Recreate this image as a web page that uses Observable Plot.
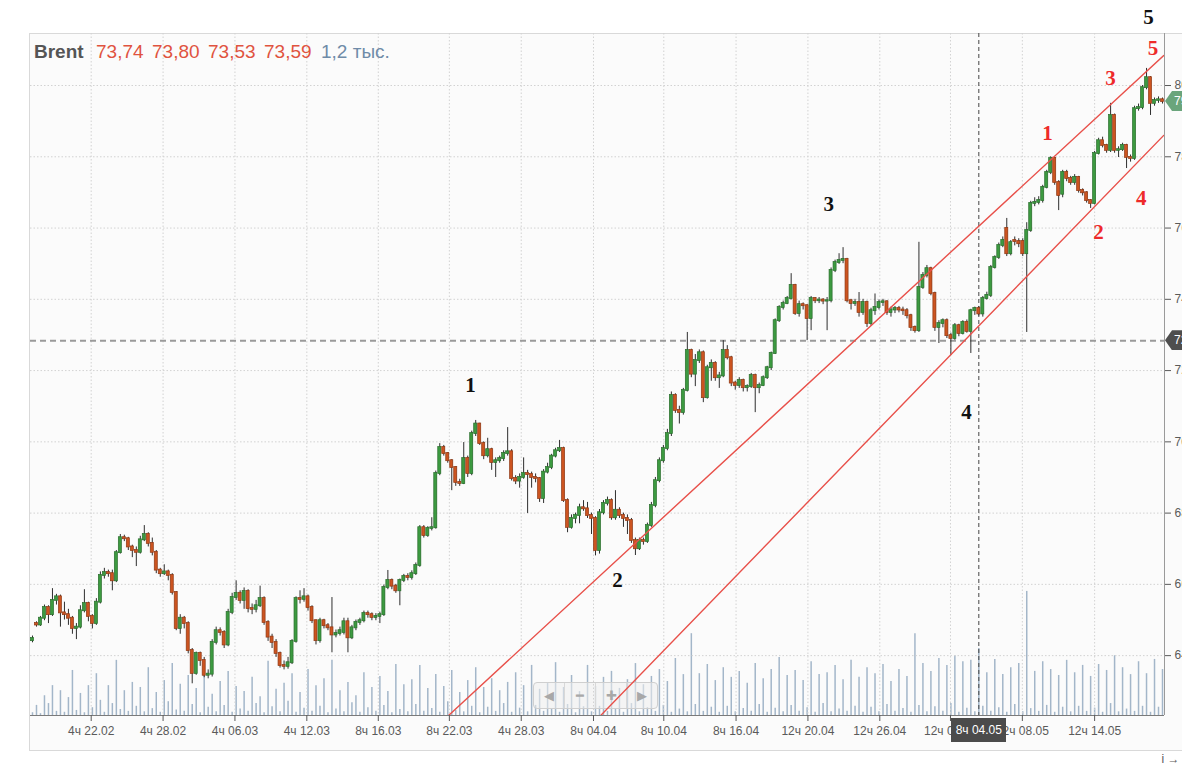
<!DOCTYPE html>
<html><head><meta charset="utf-8">
<script src="https://cdn.jsdelivr.net/npm/d3@7"></script>
<script src="https://cdn.jsdelivr.net/npm/@observablehq/plot@0.6"></script>
<style>
html,body{margin:0;padding:0;background:#fff;overflow:hidden;width:1196px;height:765px;}
#wrap{position:relative;width:1182px;height:765px;overflow:hidden;font-family:"Liberation Sans",Arial,sans-serif;}
#box{position:absolute;left:29px;top:33px;width:1153px;height:718px;border:1px solid #d9d9d9;border-right:none;background:#fbfbfb;box-sizing:border-box;}
.layer{position:absolute;left:0;}
#hdr span{position:absolute;top:42px;font-size:19px;line-height:19px;white-space:nowrap;}
.tag{position:absolute;left:1165px;height:20px;width:17px;overflow:hidden;color:#fff;font-size:12px;line-height:20px;padding-left:9px;box-sizing:border-box;white-space:nowrap;clip-path:polygon(0 50%,7px 0,100% 0,100% 100%,7px 100%);}
#xlab{position:absolute;top:718px;width:55px;height:24px;background:#4b4b4b;color:#fff;font-size:12px;line-height:24px;text-align:center;}
#nav{position:absolute;left:533px;top:682px;width:125px;height:27px;border:1px solid #cfcfcf;border-radius:4px;background:rgba(238,238,238,0.55);display:flex;box-sizing:border-box;}
#nav div{flex:1;border-left:1px solid #d8d8d8;color:#a8a8a8;font-size:13px;line-height:25px;text-align:center;}
#nav div:first-child{border-left:none;}
</style></head>
<body>
<div id="wrap">
  <div id="box"></div>
</div>
<script>
// ---------- data ----------
const open = [64.42,64.90,64.86,65.05,65.35,65.15,65.55,65.65,65.20,65.15,65.05,64.76,64.80,65.26,65.46,65.10,64.90,65.50,66.25,66.33,
66.30,66.10,66.89,67.31,67.28,67.05,66.95,66.90,67.25,67.40,67.15,66.90,66.40,66.30,66.35,66.25,65.77,64.76,65.05,64.90,
64.14,63.50,64.06,63.86,63.45,63.48,64.37,64.70,64.65,64.30,65.21,65.63,65.75,65.55,65.80,65.32,65.30,65.40,65.60,64.93,
64.52,64.37,64.06,63.72,63.70,63.80,64.40,65.60,65.58,65.65,65.35,64.98,64.42,64.98,64.84,64.78,64.58,64.62,64.65,64.95,
64.50,64.78,64.93,64.98,65.18,65.15,65.07,65.10,65.15,65.91,66.11,65.95,65.82,66.11,66.22,66.19,66.30,66.53,67.59,67.37,
67.57,67.59,69.11,69.84,69.67,69.47,69.28,68.86,68.83,69.53,69.11,70.23,70.50,69.95,69.61,69.78,69.42,69.47,69.53,69.67,
69.72,68.97,68.90,69.00,69.11,69.08,69.00,68.97,68.41,69.15,69.28,69.60,69.75,69.81,68.35,67.60,67.85,67.93,68.15,68.12,
67.93,67.85,66.95,68.01,68.27,68.35,67.87,68.08,67.93,67.85,67.79,67.23,67.00,67.23,67.20,67.65,68.21,68.91,69.47,69.81,
70.23,71.30,70.88,70.82,71.44,72.56,71.90,72.28,72.50,71.24,72.08,72.20,71.80,71.85,72.56,72.36,71.65,71.58,71.72,71.52,
71.55,71.86,71.52,71.58,71.80,72.08,72.48,73.40,73.77,73.88,74.02,74.39,73.60,73.85,73.82,73.46,74.02,73.96,73.98,73.95,
73.96,74.81,75.03,75.09,75.12,73.96,73.88,73.91,73.63,73.91,73.32,73.68,73.77,73.91,73.93,73.63,73.70,73.74,73.70,73.68,
73.54,73.21,73.12,74.33,74.67,74.86,74.16,73.21,73.32,73.40,72.98,72.90,73.26,73.04,73.35,73.10,73.68,73.74,73.59,74.02,
74.11,74.89,75.17,75.51,75.99,75.28,75.65,75.62,75.62,75.28,75.93,76.69,76.72,76.77,77.14,77.56,77.95,77.28,76.95,77.56,
77.39,77.28,77.42,77.05,76.99,76.77,76.69,78.09,78.45,78.32,78.18,79.16,78.18,78.20,78.32,77.98,77.95,79.35,79.38,79.94,
80.22,79.50,79.58,79.60];
const high = [64.55,64.95,65.10,65.42,65.40,65.88,65.72,65.70,65.50,65.30,65.10,64.90,65.40,65.85,65.50,65.15,65.60,66.35,66.45,66.40,
66.40,66.95,67.40,67.38,67.32,67.10,67.05,67.35,67.65,67.45,67.30,66.95,66.45,66.55,66.40,66.30,65.80,65.15,65.10,64.95,
64.20,64.10,64.10,63.95,63.60,64.45,64.80,64.78,64.70,65.30,65.75,66.10,65.82,65.90,65.85,65.45,65.55,65.95,65.65,64.98,
64.60,64.45,64.10,63.85,63.95,64.45,65.65,65.82,65.88,65.70,65.40,65.00,65.05,65.02,64.90,65.63,64.72,64.80,65.05,65.05,
64.85,65.00,65.05,65.25,65.25,65.20,65.18,65.22,65.98,66.39,66.15,66.00,66.15,66.28,66.30,66.38,66.60,67.65,67.65,67.62,
67.87,69.18,69.95,69.90,69.70,69.50,69.30,68.95,69.98,69.60,70.30,70.60,70.52,70.00,70.10,69.82,69.55,69.60,69.75,70.40,
69.78,69.05,69.10,69.55,69.20,69.15,69.10,69.00,69.22,69.40,69.65,69.82,70.04,69.85,68.40,67.95,68.00,68.25,68.35,68.30,
68.00,67.90,68.10,68.35,68.45,68.40,68.63,68.15,68.00,67.95,67.85,67.30,67.30,67.30,67.72,68.30,69.00,69.55,69.90,70.35,
71.40,71.35,71.00,71.50,73.07,72.60,72.45,72.58,72.55,72.15,72.30,72.25,71.95,72.84,72.70,72.40,71.70,71.80,71.76,71.60,
71.92,71.90,71.65,71.85,72.12,72.52,73.45,73.82,73.95,74.08,74.72,74.42,73.95,73.90,73.85,74.08,74.05,74.05,74.02,74.05,
74.88,75.10,75.28,75.45,75.15,74.00,74.00,74.19,74.00,73.95,73.75,74.15,73.98,74.00,73.96,73.78,73.80,73.80,73.78,73.74,
73.58,73.25,75.60,74.75,74.95,74.90,74.20,73.40,73.45,73.45,73.05,73.32,73.30,73.40,73.42,73.72,73.78,73.80,74.08,74.20,
74.95,75.22,75.58,75.75,76.27,75.65,75.75,75.70,75.70,76.15,76.75,76.85,76.88,77.20,77.62,78.00,77.98,77.33,77.62,77.62,
77.45,77.50,77.45,77.10,77.02,76.80,78.15,78.52,78.55,78.35,79.50,79.20,78.28,78.38,78.35,78.05,79.42,79.48,80.00,80.48,
80.25,79.65,79.68,79.65];
const low = [64.36,64.80,64.82,64.98,64.90,65.10,65.42,64.80,65.00,64.85,64.60,64.45,64.75,65.20,64.95,64.75,64.85,65.45,66.15,66.20,
65.82,66.05,66.85,67.20,66.95,66.75,66.50,66.85,67.20,67.05,66.80,66.30,66.20,66.25,66.10,65.70,64.70,64.60,64.75,64.05,
63.21,63.45,63.70,63.38,63.35,63.40,64.30,64.55,64.20,64.25,65.15,65.55,65.45,65.30,65.20,65.15,65.20,65.35,64.85,64.40,
64.20,63.95,63.65,63.60,63.62,63.75,64.35,65.45,65.50,65.25,64.90,64.30,64.35,64.75,64.70,64.08,64.50,64.55,64.58,64.08,
64.45,64.70,64.85,64.92,65.05,64.98,64.98,64.90,65.10,65.85,65.85,65.75,65.40,66.05,66.10,66.12,66.25,66.48,67.30,67.32,
67.50,67.55,69.05,69.60,69.40,68.63,68.75,68.75,68.80,69.00,69.05,70.15,69.90,69.50,69.55,69.20,69.00,69.40,69.45,69.60,
68.90,68.80,68.70,68.95,67.99,68.70,68.85,68.30,68.27,69.10,69.22,69.55,69.70,68.30,67.45,67.55,67.70,67.70,68.05,67.85,
67.40,66.80,66.85,67.95,68.20,67.80,67.80,67.85,67.60,67.40,67.15,66.81,66.95,67.10,67.15,67.60,68.15,68.85,69.40,69.75,
70.15,70.80,70.50,70.75,71.40,71.80,71.55,72.20,71.10,71.20,71.70,71.70,71.50,71.80,72.30,71.55,71.45,71.50,71.40,71.40,
71.50,70.82,71.35,71.55,71.75,72.00,72.45,73.35,73.70,73.85,73.98,73.55,73.50,73.70,72.84,73.12,73.88,73.88,73.85,73.12,
73.90,74.75,74.98,75.00,73.90,73.70,73.80,73.50,73.55,73.21,73.25,73.55,73.70,73.80,73.55,73.50,73.60,73.62,73.55,73.45,
73.10,73.05,73.07,74.28,74.60,74.10,73.10,72.76,73.20,72.90,72.42,72.85,72.95,73.00,73.05,72.48,73.55,73.53,73.50,73.98,
74.05,74.85,75.12,75.45,75.20,75.22,75.50,75.45,75.20,73.07,75.88,76.60,76.65,76.70,77.10,77.50,77.20,76.49,76.85,77.30,
77.20,77.20,76.98,76.90,76.70,76.55,76.65,78.05,78.25,78.10,78.12,78.10,77.98,78.15,77.67,77.85,77.90,79.28,79.32,79.88,
79.16,79.42,79.50,79.48];
const close = [64.48,64.86,65.05,65.35,65.15,65.55,65.65,65.20,65.15,65.05,64.76,64.80,65.26,65.46,65.10,64.90,65.50,66.25,66.33,66.30,
66.10,66.89,67.31,67.28,67.05,66.95,66.90,67.25,67.40,67.15,66.90,66.40,66.30,66.35,66.25,65.77,64.76,65.05,64.90,64.14,
63.50,64.06,63.86,63.45,63.48,64.37,64.70,64.65,64.30,65.21,65.63,65.75,65.55,65.80,65.32,65.30,65.40,65.60,64.93,64.52,
64.37,64.06,63.72,63.70,63.80,64.40,65.60,65.58,65.65,65.35,64.98,64.42,64.98,64.84,64.78,64.58,64.62,64.70,64.95,64.50,
64.78,64.93,64.98,65.18,65.15,65.07,65.10,65.15,65.91,66.11,65.95,65.82,66.11,66.22,66.19,66.30,66.53,67.59,67.37,67.57,
67.59,69.11,69.84,69.67,69.47,69.28,68.86,68.83,69.53,69.11,70.23,70.50,69.95,69.61,69.78,69.42,69.47,69.53,69.67,69.72,
68.97,68.90,69.00,69.11,69.08,69.00,68.97,68.41,69.15,69.28,69.60,69.75,69.81,68.35,67.60,67.85,67.93,68.15,68.12,67.93,
67.85,66.95,68.01,68.27,68.35,67.87,68.08,67.93,67.85,67.79,67.23,67.00,67.23,67.20,67.65,68.21,68.91,69.47,69.81,70.23,
71.30,70.88,70.82,71.44,72.56,71.90,72.28,72.50,71.24,72.08,72.20,71.80,71.85,72.56,72.36,71.65,71.58,71.72,71.52,71.55,
71.86,71.52,71.58,71.80,72.08,72.48,73.40,73.77,73.88,74.02,74.39,73.60,73.85,73.82,73.46,74.02,73.96,73.98,73.95,73.96,
74.81,75.03,75.09,75.12,73.96,73.88,73.91,73.63,73.91,73.32,73.68,73.77,73.91,73.93,73.63,73.70,73.74,73.70,73.68,73.54,
73.21,73.12,74.33,74.67,74.86,74.16,73.21,73.32,73.40,72.98,72.90,73.26,73.04,73.35,73.10,73.68,73.74,73.59,74.02,74.11,
74.89,75.17,75.51,75.65,75.28,75.59,75.62,75.56,75.28,75.93,76.69,76.72,76.77,77.14,77.56,77.95,77.28,76.91,77.56,77.39,
77.28,77.42,77.05,76.99,76.77,76.69,78.09,78.45,78.32,78.18,79.16,78.18,78.20,78.32,77.98,77.95,79.35,79.38,79.94,80.22,
79.50,79.58,79.60,79.55];
const volume = [0.6,2.2,0.4,4.3,2.6,6.5,0.9,5.4,0.7,3.9,9.8,1.1,4.8,0.6,6.5,1.7,9.1,3.3,0.7,6.5,2.6,12.0,1.3,5.4,
0.9,7.2,2.0,6.1,0.8,10.4,1.5,5.0,0.7,7.6,3.0,11.3,1.2,6.8,0.9,8.7,2.4,5.9,0.6,10.9,1.8,4.6,0.8,7.4,
2.2,9.6,0.7,6.3,1.4,5.2,0.9,8.3,2.6,4.1,0.6,11.8,1.9,5.7,0.8,7.0,3.1,9.1,0.7,5.0,1.6,10.0,0.9,6.5,
2.0,8.0,0.6,12.0,1.4,5.4,0.8,7.2,2.8,4.3,0.7,9.3,1.7,6.1,0.9,8.5,2.2,5.2,0.6,11.1,1.3,6.7,0.8,7.8,
2.4,10.9,0.9,5.9,1.5,8.9,0.7,6.3,3.0,9.8,1.1,5.0,0.8,7.6,2.0,10.4,0.6,6.1,1.8,8.0,0.9,5.4,2.6,7.2,
0.7,9.3,1.6,6.5,0.8,10.9,2.2,5.7,0.9,7.0,1.4,11.5,0.7,6.1,2.4,8.7,0.6,5.2,1.9,10.9,0.8,6.3,2.0,8.3,
0.9,9.6,1.5,5.9,0.7,7.8,2.6,11.3,0.8,6.7,1.7,8.5,0.9,10.0,2.2,7.4,0.7,12.4,1.4,8.9,0.8,17.8,2.4,9.1,
0.9,11.1,1.8,7.6,0.7,10.4,2.0,8.3,0.8,9.6,1.5,7.0,0.9,11.3,2.4,8.0,0.7,10.0,1.6,12.6,0.8,8.7,2.2,9.8,
0.9,7.6,1.7,11.7,0.7,8.9,2.6,9.3,0.8,10.9,1.4,7.8,0.9,12.0,2.0,8.3,0.7,10.4,1.8,9.1,0.8,11.1,2.4,7.4,
0.9,10.0,1.5,8.5,0.7,17.8,2.2,11.3,0.8,9.6,1.9,12.4,0.9,10.9,2.6,13.0,0.7,11.7,1.6,12.0,0.8,14.6,2.0,9.3,
0.9,12.2,1.7,8.9,0.7,10.4,2.4,11.3,0.8,27.0,1.5,9.6,0.9,11.7,2.2,10.0,0.7,8.7,1.8,12.0,0.8,9.3,2.0,10.9,
0.9,8.5,1.6,11.1,0.7,9.8,2.6,13.0,0.8,10.4,1.4,8.9,0.9,11.7,2.0,9.1,0.7,12.2,1.8,10.0];

const xTickIdx = [14.7,32.7,50.7,68.7,86.6,104.4,122.4,140.5,158.1,176.2,194.2,212.2,229.9,247.9,266.0];
const xTickLabels = ["4ч 22.02","4ч 28.02","4ч 06.03","4ч 12.03","8ч 16.03","8ч 22.03","4ч 28.03","8ч 04.04",
  "8ч 10.04","8ч 16.04","12ч 20.04","12ч 26.04","12ч 02.05","12ч 08.05","12ч 14.05"];
const yTicks = [64,66,68,70,72,74,76,78,80];

const waveBlack = [{t:"1",i:109.7,p:71.58},{t:"2",i:146.5,p:66.11},{t:"3",i:199.4,p:76.66},{t:"4",i:233.9,p:70.82},{t:"5",i:279.5,p:81.91}];
const waveRed = [{t:"1",i:254.2,p:78.65},{t:"2",i:267,p:75.87},{t:"3",i:270,p:80.20},{t:"4",i:277.7,p:76.83},{t:"5",i:280.6,p:81.04}];
const channelUpper = [{i:104.2,p:62.32},{i:283.3,p:80.84}];
const channelLower = [{i:142.3,p:62.32},{i:283.3,p:78.60}];

const crossIdx = 237, crossLabel = "8ч 04.05", crossPrice = 72.84;
const header = {name:"Brent", ohlc:["73,74","73,80","73,53","73,59"], vol:"1,2 тыс."};
const lastPrice = 79.55;

// ---------- build ----------
const N = close.length;
const candles = close.map((c,i)=>({i, open:open[i], high:high[i], low:low[i], close:c, up: c >= open[i]}));
const xDomain = [-0.5, N-0.5];
const yDomain = [62.32, 81.46];
const labelMap = new Map(xTickIdx.map((d,k)=>[d, xTickLabels[k]]));
const W = 1182, ML = 30, MR = 18;

const wrap = document.getElementById("wrap");

// volume layer
const vol = Plot.plot({
  width: W, height: 125, marginTop: 0, marginBottom: 0, marginLeft: ML, marginRight: MR,
  style: "background:transparent;overflow:hidden;",
  x: {domain: xDomain, axis: null},
  y: {domain: [0, 27.2], axis: null},
  marks: [
    Plot.ruleX(volume, {x: (d,i)=>i, y1: 0, y2: d=>d, stroke: "#a3b6c9", strokeWidth: 1.5})
  ]
});
vol.classList.add("layer"); vol.style.top = "590px"; vol.style.position = "absolute";
wrap.appendChild(vol);

// nav widget
const nav = document.createElement("div");
nav.id = "nav";
nav.innerHTML = "<div>◀</div><div>━</div><div>✚</div><div>▶</div>";
wrap.appendChild(nav);

const green = "#3c9a40", greenStroke = "#2a6d2d", red = "#cc5420", redStroke = "#8d3814";

const chart = Plot.plot({
  width: W, height: 765, marginTop: 33, marginBottom: 50, marginLeft: ML, marginRight: MR,
  style: "background:transparent;overflow:hidden;font-family:'Liberation Sans',Arial,sans-serif;font-size:12px;",
  x: {domain: xDomain, axis: null},
  y: {domain: yDomain, axis: null},
  marks: [
    Plot.gridY(yTicks, {stroke: "#d2d2d2", strokeOpacity: 1, strokeDasharray: "1.5,2"}),
    Plot.gridX(xTickIdx, {stroke: "#d2d2d2", strokeOpacity: 1, strokeDasharray: "1.5,2"}),
    Plot.ruleY([yDomain[0]], {stroke: "#7a7a7a", strokeWidth: 1.2}),
    Plot.ruleX([xDomain[1]], {stroke: "#9a9a9a"}),
    Plot.axisX(xTickIdx, {anchor: "bottom", tickSize: 6, tickPadding: 5, tickFormat: d => labelMap.get(d), fontSize: 12, color: "#5a5a5a"}),
    Plot.axisY(yTicks, {anchor: "right", tickSize: 6, tickPadding: 4, tickFormat: d => d + ",00", fontSize: 12, color: "#5a5a5a"}),
    Plot.ruleY([crossPrice], {stroke: "#9a9a9a", strokeWidth: 2, strokeDasharray: "6,4"}),
    Plot.ruleX([crossIdx], {stroke: "#444", strokeWidth: 1, strokeDasharray: "4,3"}),
    Plot.ruleX(candles, {x: "i", y1: "low", y2: "high", stroke: "#2e2e2e", strokeWidth: 1}),
    Plot.rect(candles, {x1: d => d.i - 0.38, x2: d => d.i + 0.38, y1: "open", y2: "close",
      insetTop: -0.5, insetBottom: -0.5,
      fill: d => d.up ? green : red, stroke: d => d.up ? greenStroke : redStroke, strokeWidth: 0.7}),
    Plot.line(channelUpper, {x: "i", y: "p", stroke: "#e8504a", strokeWidth: 1.4, clip: true}),
    Plot.line(channelLower, {x: "i", y: "p", stroke: "#e8504a", strokeWidth: 1.4, clip: true}),
    Plot.text(waveBlack, {x: "i", y: "p", text: "t", fill: "#111", fontSize: 21, fontWeight: "bold", fontFamily: "'Liberation Serif','DejaVu Serif',serif"}),
    Plot.text(waveRed, {x: "i", y: "p", text: "t", fill: "#ee2a2a", fontSize: 21, fontWeight: "bold", fontFamily: "'Liberation Serif','DejaVu Serif',serif"})
  ]
});
chart.classList.add("layer"); chart.style.top = "0px"; chart.style.position = "absolute";
wrap.appendChild(chart);

const xs = chart.scale("x"), ys = chart.scale("y");

// header
const hdr = document.createElement("div");
hdr.id = "hdr";
const parts = [
  {t: header.name, x: 34, c: "#555", w: "bold"},
  {t: header.ohlc[0], x: 96, c: "#e0533f"},
  {t: header.ohlc[1], x: 152, c: "#e0533f"},
  {t: header.ohlc[2], x: 208, c: "#e0533f"},
  {t: header.ohlc[3], x: 264, c: "#e0533f"},
  {t: header.vol, x: 321, c: "#6f8ba8"}
];
for (const p of parts) {
  const s = document.createElement("span");
  s.textContent = p.t; s.style.left = p.x + "px"; s.style.color = p.c;
  if (p.w) s.style.fontWeight = p.w;
  hdr.appendChild(s);
}
wrap.appendChild(hdr);

// price tags
function tag(price, bg) {
  const d = document.createElement("div");
  d.className = "tag";
  d.style.top = (ys.apply(price) - 10) + "px";
  d.style.background = bg;
  d.textContent = price.toFixed(2).replace(".", ",");
  wrap.appendChild(d);
}
tag(lastPrice, "#6aa57c");
tag(crossPrice, "#4e4e4e");

// crosshair x label
const xl = document.createElement("div");
xl.id = "xlab";
xl.textContent = crossLabel;
xl.style.left = (xs.apply(crossIdx) - 27) + "px";
wrap.appendChild(xl);
</script>
</body></html>
